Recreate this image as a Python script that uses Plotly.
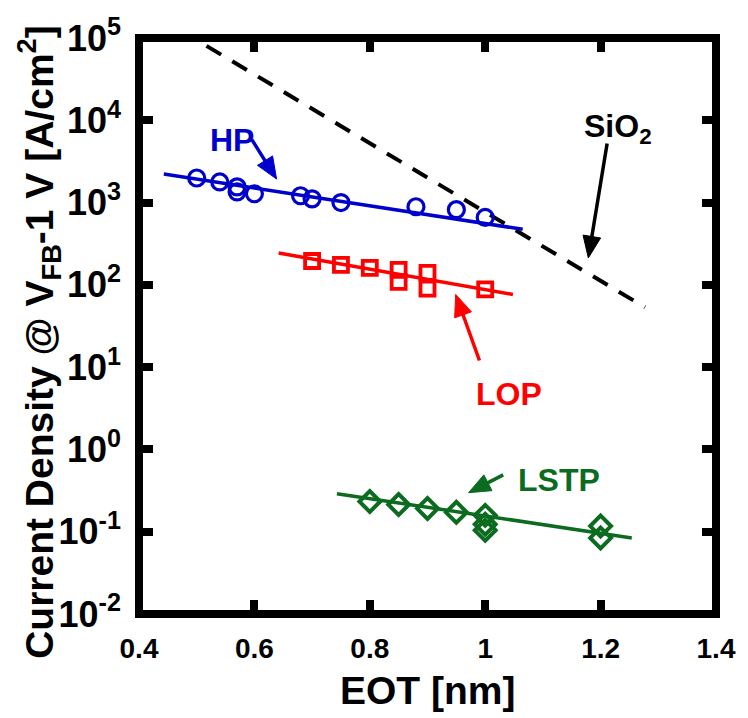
import plotly.graph_objects as go

# ---------------- data ----------------
hp_eot = [0.50, 0.54, 0.57, 0.57, 0.60, 0.68, 0.70, 0.75, 0.88, 0.95, 1.00]
hp_j = [1990, 1780, 1550, 1350, 1280, 1210, 1110, 1000, 890, 820, 660]
hp_fit_eot = [0.443, 1.065]
hp_fit_j = [2220, 473]

lop_eot = [0.70, 0.75, 0.80, 0.85, 0.85, 0.90, 0.90, 1.00]
lop_j = [195, 175, 161, 152, 109, 140, 90, 88]
lop_fit_eot = [0.642, 1.048]
lop_fit_j = [244, 76.5]

lstp_eot = [0.80, 0.85, 0.90, 0.95, 1.00, 1.00, 1.00, 1.20, 1.20]
lstp_j = [0.233, 0.214, 0.192, 0.172, 0.158, 0.123, 0.104, 0.117, 0.084]
lstp_fit_eot = [0.743, 1.254]
lstp_fit_j = [0.29, 0.084]

sio2_eot = [0.517, 1.277]
sio2_j = [80200, 53.3]

x_ticks = [0.4, 0.6, 0.8, 1.0, 1.2, 1.4]
x_tick_text = ["0.4", "0.6", "0.8", "1", "1.2", "1.4"]
y_exponents = [-2, -1, 0, 1, 2, 3, 4, 5]
y_ticks = [10.0 ** e for e in y_exponents]
y_tick_text = ["10<sup>%d</sup>" % e for e in y_exponents]

BLUE = "#0000CC"
RED = "#FF0000"
GREEN = "#0B6B1F"
FONT = "Liberation Sans, Arial, sans-serif"

W, H = 748, 718
L, R, T, B = 139, 722, 30, 614


def px(x):
    return (x - L) / (R - L)


def py(y):
    return (B - y) / (B - T)


fig = go.Figure()

fig.add_trace(go.Scatter(x=sio2_eot, y=sio2_j, mode="lines",
                         line=dict(color="black", width=4, dash="17px,13px"),
                         showlegend=False))
fig.add_trace(go.Scatter(x=hp_fit_eot, y=hp_fit_j, mode="lines",
                         line=dict(color=BLUE, width=3.5), showlegend=False))
fig.add_trace(go.Scatter(x=hp_eot, y=hp_j, mode="markers",
                         marker=dict(symbol="circle-open", size=16, color=BLUE,
                                     line=dict(color=BLUE, width=3.2)),
                         showlegend=False))
fig.add_trace(go.Scatter(x=lop_fit_eot, y=lop_fit_j, mode="lines",
                         line=dict(color=RED, width=3.5), showlegend=False))
fig.add_trace(go.Scatter(x=lop_eot, y=lop_j, mode="markers",
                         marker=dict(symbol="square-open", size=14, color=RED,
                                     line=dict(color=RED, width=3.8)),
                         showlegend=False))
fig.add_trace(go.Scatter(x=lstp_fit_eot, y=lstp_fit_j, mode="lines",
                         line=dict(color=GREEN, width=3.5), showlegend=False))
fig.add_trace(go.Scatter(x=lstp_eot, y=lstp_j, mode="markers",
                         marker=dict(symbol="diamond-open", size=16, color=GREEN,
                                     line=dict(color=GREEN, width=4)),
                         showlegend=False))

shapes = []
# frame
shapes.append(dict(type="rect", xref="paper", yref="paper", x0=0, x1=1, y0=0, y1=1,
                   line=dict(color="black", width=8), layer="above"))

# arrows (tail pixel, head pixel) drawn as shaft + filled triangle head
arrows = [
    ((253, 133), (278, 173), BLUE),
    ((612, 137), (593, 253), "black"),
    ((483, 357), (459, 290), RED),
    ((507, 473), (472, 491), GREEN),
]
HEAD_LEN, HEAD_HALF = 22, 9
for (tx, ty), (hx, hy), c in arrows:
    dx, dy = hx - tx, hy - ty
    n = (dx * dx + dy * dy) ** 0.5
    ux, uy = dx / n, dy / n
    bx, by = hx - ux * HEAD_LEN, hy - uy * HEAD_LEN
    shapes.append(dict(type="line", xref="paper", yref="paper",
                       x0=px(tx), y0=py(ty), x1=px(bx + ux * 2), y1=py(by + uy * 2),
                       line=dict(color=c, width=3.5)))
    p1 = (bx - uy * HEAD_HALF, by + ux * HEAD_HALF)
    p2 = (bx + uy * HEAD_HALF, by - ux * HEAD_HALF)
    path = "M %f %f L %f %f L %f %f Z" % (px(hx), py(hy), px(p1[0]), py(p1[1]),
                                           px(p2[0]), py(p2[1]))
    shapes.append(dict(type="path", xref="paper", yref="paper", path=path,
                       fillcolor=c, line=dict(color=c, width=1)))

ann = []
lab_font = dict(family=FONT, size=32, weight="bold")
ann.append(dict(x=px(233), y=py(133), text="HP", font=dict(lab_font, color=BLUE)))
ann.append(dict(x=px(587), y=py(122), text="SiO<sub>2</sub>", xanchor="left",
                font=dict(lab_font, color="black")))
ann.append(dict(x=px(513), y=py(391), text="LOP", font=dict(lab_font, color=RED)))
ann.append(dict(x=px(563), y=py(478), text="LSTP", font=dict(lab_font, color=GREEN)))
ann.append(dict(x=px(431), y=py(692), text="EOT [nm]",
                font=dict(family=FONT, size=39, weight="bold", color="black")))
ann.append(dict(x=px(38), y=py(338), textangle=-90,
                text="Current Density @ V<sub>FB</sub>-1 V [A/cm<sup>2</sup>]",
                font=dict(family=FONT, size=39, weight="bold", color="black")))

for a in ann:
    a.setdefault("xref", "paper")
    a.setdefault("yref", "paper")
    a.setdefault("showarrow", False)
    a.setdefault("xanchor", "center")
    a.setdefault("yanchor", "middle")

xtickfont = dict(family=FONT, size=28, weight="bold", color="black")
ytickfont = dict(family=FONT, size=36, weight="bold", color="black")

fig.update_layout(
    width=W, height=H,
    margin=dict(l=L, r=W - R, t=T, b=H - B, pad=0),
    paper_bgcolor="white", plot_bgcolor="white",
    annotations=ann, shapes=shapes,
    xaxis=dict(range=[0.4, 1.4], tickvals=x_ticks, ticktext=x_tick_text,
               ticks="inside", ticklen=14, tickwidth=8, tickcolor="black",
               mirror="ticks", showline=False, showgrid=False, zeroline=False,
               tickfont=xtickfont, ticklabelstandoff=15),
    yaxis=dict(type="log", range=[-2, 5], tickvals=y_ticks, ticktext=y_tick_text,
               ticks="inside", ticklen=14, tickwidth=8, tickcolor="black",
               mirror="ticks", showline=False, showgrid=False, zeroline=False,
               tickfont=ytickfont, ticklabelstandoff=17),
)

fig.write_html("out.html")
